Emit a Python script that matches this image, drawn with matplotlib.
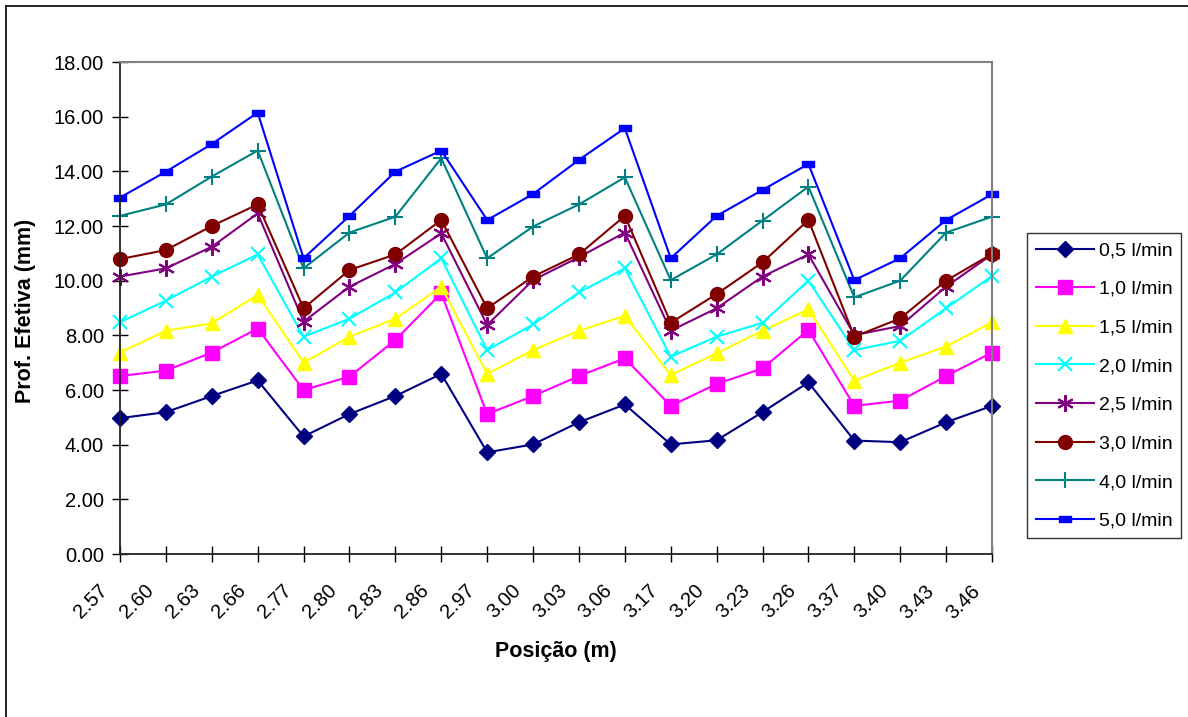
import matplotlib.pyplot as plt
import matplotlib.transforms as mtransforms
from matplotlib.lines import Line2D

plt.rcParams['font.family'] = ['Liberation Sans', 'DejaVu Sans']

positions = ['2.57', '2.60', '2.63', '2.66', '2.77', '2.80', '2.83', '2.86', '2.97', '3.00',
             '3.03', '3.06', '3.17', '3.20', '3.23', '3.26', '3.37', '3.40', '3.43', '3.46']

q05 = [4.97, 5.19, 5.78, 6.35, 4.30, 5.12, 5.78, 6.59, 3.72, 4.01,
       4.82, 5.47, 4.01, 4.16, 5.19, 6.28, 4.15, 4.09, 4.82, 5.42]
q10 = [6.51, 6.71, 7.37, 8.25, 6.00, 6.49, 7.83, 9.54, 5.12, 5.78,
       6.51, 7.16, 5.42, 6.22, 6.79, 8.20, 5.42, 5.61, 6.51, 7.37]
q15 = [7.37, 8.17, 8.44, 9.48, 7.00, 7.95, 8.61, 9.78, 6.59, 7.46,
       8.17, 8.71, 6.55, 7.34, 8.17, 8.95, 6.34, 7.00, 7.59, 8.48]
q20 = [8.48, 9.27, 10.15, 10.96, 7.95, 8.61, 9.57, 10.82, 7.46, 8.40,
       9.57, 10.45, 7.22, 7.95, 8.46, 10.00, 7.46, 7.80, 8.99, 10.17]
q25 = [10.15, 10.45, 11.24, 12.46, 8.50, 9.78, 10.61, 11.73, 8.38, 10.02,
       10.86, 11.76, 8.17, 8.99, 10.15, 10.96, 8.01, 8.34, 9.78, 10.96]
q30 = [10.79, 11.12, 12.00, 12.79, 8.99, 10.39, 10.96, 12.22, 8.99, 10.15,
       10.96, 12.37, 8.46, 9.51, 10.67, 12.22, 7.95, 8.62, 10.00, 10.98]
q40 = [12.37, 12.79, 13.81, 14.76, 10.45, 11.76, 12.34, 14.48, 10.82, 11.98,
       12.79, 13.78, 10.02, 10.96, 12.20, 13.44, 9.39, 10.00, 11.76, 12.34]
q50 = [13.04, 13.99, 15.00, 16.15, 10.82, 12.37, 13.99, 14.76, 12.22, 13.17,
       14.42, 15.58, 10.82, 12.37, 13.32, 14.27, 10.02, 10.82, 12.22, 13.16]

labels = ['0,5 l/min', '1,0 l/min', '1,5 l/min', '2,0 l/min',
          '2,5 l/min', '3,0 l/min', '4,0 l/min', '5,0 l/min']

rect = [(-1, -0.55), (1, -0.55), (1, 0.55), (-1, 0.55), (-1, -0.55)]
styles = [
    ('#000080', 'D', 8, 1),
    ('#FF00FF', 's', 10, 1),
    ('#FFFF00', '^', 10, 1),
    ('#00FFFF', 'x', 10, 1.5),
    ('#800080', (6, 2, 0), 12, 1.5),
    ('#800000', 'o', 10, 1),
    ('#008080', '+', 12, 1.5),
    ('#0000FF', rect, 8, 1),
]

fig = plt.figure(figsize=(11.88, 7.17), dpi=100)
ax = fig.add_axes([120 / 1188, 1 - 554 / 717, 872 / 1188, 492 / 717])

x = list(range(len(positions)))
series = [q05, q10, q15, q20, q25, q30, q40, q50]
for vals, lab, (c, m, ms, mew) in zip(series, labels, styles):
    ax.plot(x, vals, color=c, lw=1.5, marker=m, ms=ms, mfc=c, mec=c, mew=mew,
            label=lab, clip_on=False)

ax.set_xlim(0, len(positions) - 1)
ax.set_ylim(0, 18)
ax.set_yticks(range(0, 19, 2))
ax.set_yticklabels(['%.2f' % v for v in range(0, 19, 2)])
ax.set_xticks(x)

ax.tick_params(direction='inout', length=11, width=1, labelsize=14.5, colors='black')
ax.tick_params(axis='x', pad=14)
ax.tick_params(axis='y', pad=6)

ax.set_xticklabels(positions, rotation=45, ha='right', rotation_mode='anchor')
# nudge the slanted labels to the left, like the spreadsheet does
offset = mtransforms.ScaledTranslation(-22 / 100, 0, fig.dpi_scale_trans)
for t in ax.get_xticklabels():
    t.set_transform(t.get_transform() + offset)

for s in ['left', 'bottom']:
    ax.spines[s].set_color('#222222')
    ax.spines[s].set_linewidth(1.3)
for s in ['top', 'right']:
    ax.spines[s].set_color('#808080')
    ax.spines[s].set_linewidth(1.5)

fig.text(26 / 1188, 1 - 311 / 717, 'Prof. Efetiva (mm)', rotation=90, ha='center', va='center',
         fontsize=15.5, fontweight='bold')
fig.text(556 / 1188, 1 - 651 / 717, 'Posição (m)', ha='center', va='center',
         fontsize=15.5, fontweight='bold')

leg = fig.legend(loc='upper left', bbox_to_anchor=(1027 / 1188, 1 - 233 / 717),
                 fontsize=14, frameon=True, fancybox=False, borderpad=0.45,
                 labelspacing=1.08, handlelength=3.0, handletextpad=0.25, borderaxespad=0)
leg.get_frame().set_edgecolor('black')
leg.get_frame().set_linewidth(1)

fig.add_artist(Line2D([6 / 1188, 6 / 1188], [0, 1 - 6 / 717], color='black', lw=1.2,
                      transform=fig.transFigure))
fig.add_artist(Line2D([6 / 1188, 1], [1 - 6 / 717, 1 - 6 / 717], color='black', lw=1.2,
                      transform=fig.transFigure))

fig.savefig('out.png', dpi=100)
